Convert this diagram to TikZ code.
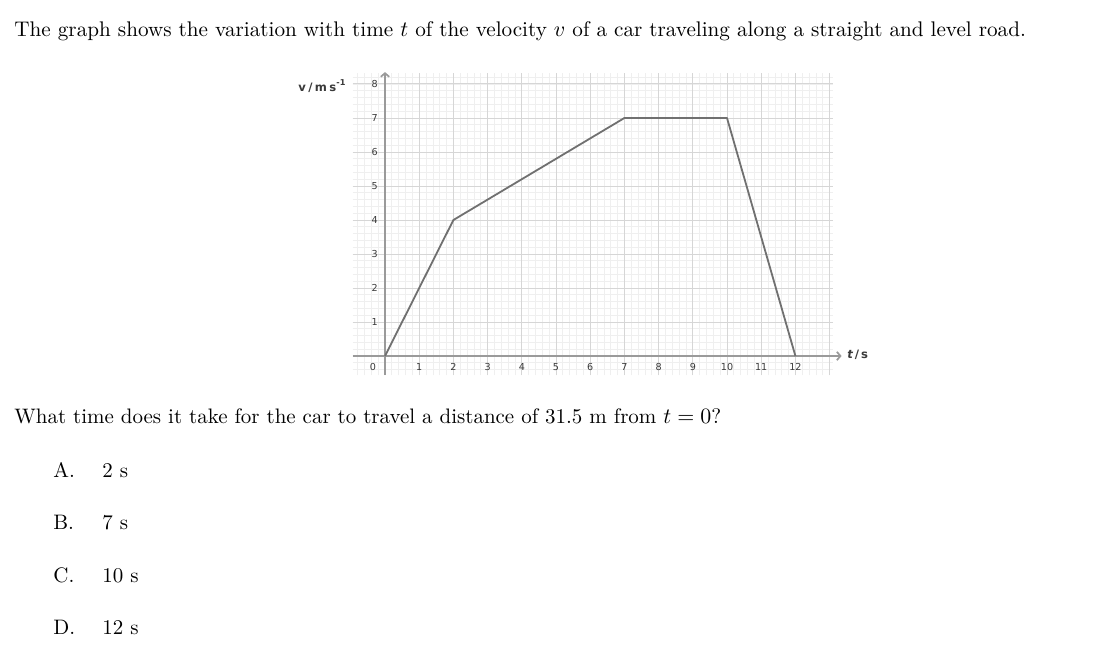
\documentclass[tikz,border=0pt]{standalone}
\usepackage{fontspec}
\newfontfamily\axfont{DejaVu Sans}
\usetikzlibrary{arrows.meta}
\definecolor{minorg}{HTML}{EFEFEF}
\definecolor{majorg}{HTML}{D6D6D6}
\definecolor{axisg}{HTML}{9A9A9A}
\definecolor{plotg}{HTML}{707070}
\definecolor{labg}{HTML}{3A3A3A}
\begin{document}
\begin{tikzpicture}[x=0.5pt,y=-0.5pt,
  maintext/.style={anchor=base west,inner sep=0pt,font=\fontsize{10.58}{12}\selectfont},
  qtext/.style={anchor=base west,inner sep=0pt,font=\fontsize{10.48}{12}\selectfont},
  ticklab/.style={inner sep=0pt,text=labg,font=\axfont\fontsize{4.8}{5}\selectfont},
  axlab/.style={inner sep=0pt,text=labg,font=\axfont\bfseries\fontsize{5.8}{6}\selectfont},
  minorgrid/.style={draw=minorg,line width=0.35pt},
  majorgrid/.style={draw=majorg,line width=0.5pt},
  axisline/.style={draw=axisg,line width=0.85pt,-{Straight Barb[length=1.8pt,width=4.2pt]}},
  plotline/.style={draw=plotg,line width=0.9pt,line join=round}]
\useasboundingbox (0,0) rectangle (1095,647);
\fill[white] (0,0) rectangle (1095,647);

\node[maintext] (intro) at (14,37) {The graph shows the variation with time $t$ of the velocity $v$ of a car traveling along a straight and level road.};

\begin{scope}[shift={(385,356)},x={(17.1pt,0pt)},y={(0pt,17pt)}]
  \draw[minorgrid,step=0.2] (-0.95,-0.56) grid (13.1,8.32);
  \draw[majorgrid,step=1] (-0.95,-0.56) grid (13.1,8.32);
  \coordinate (xs) at (-0.95,0);
  \coordinate (xe) at (13.35,0);
  \coordinate (ys) at (0,-0.56);
  \coordinate (ye) at (0,8.35);
  \draw[axisline] (xs) -- (xe);
  \draw[axisline] (ys) -- (ye);
  \foreach \k in {1,...,8} { \node[ticklab] (yl\k) at (-0.3,\k) {\k}; }
  \foreach \k in {1,...,12} { \node[ticklab] (xl\k) at (\k,-0.32) {\k}; }
  \node[ticklab] (zero) at (-0.35,-0.32) {0};
  \coordinate (p0) at (0,0);
  \coordinate (p1) at (2,4);
  \coordinate (p2) at (7,7);
  \coordinate (p3) at (10,7);
  \coordinate (p4) at (12,0);
  \draw[plotline] (p0) -- (p1) -- (p2) -- (p3) -- (p4);
\end{scope}

\node[axlab,anchor=base west] (vlab) at (298,91) {v\kern1.2pt/\kern1.2pt m\kern1.2pt s\textsuperscript{-1}};
\node[axlab,anchor=west] (tlab) at (847,355) {\itshape t\upshape\kern1pt/\kern1pt s};

\node[qtext] (question) at (14,423) {What time does it take for the car to travel a distance of 31.5 m from $t=0$?};
\node[qtext] (oa) at (53,477) {A.};
\node[qtext] (oav) at (102,477) {2 s};
\node[qtext] (ob) at (53,529) {B.};
\node[qtext] (obv) at (102,529) {7 s};
\node[qtext] (oc) at (53,582) {C.};
\node[qtext] (ocv) at (102,582) {10 s};
\node[qtext] (od) at (53,634) {D.};
\node[qtext] (odv) at (102,634) {12 s};
\end{tikzpicture}
\end{document}
